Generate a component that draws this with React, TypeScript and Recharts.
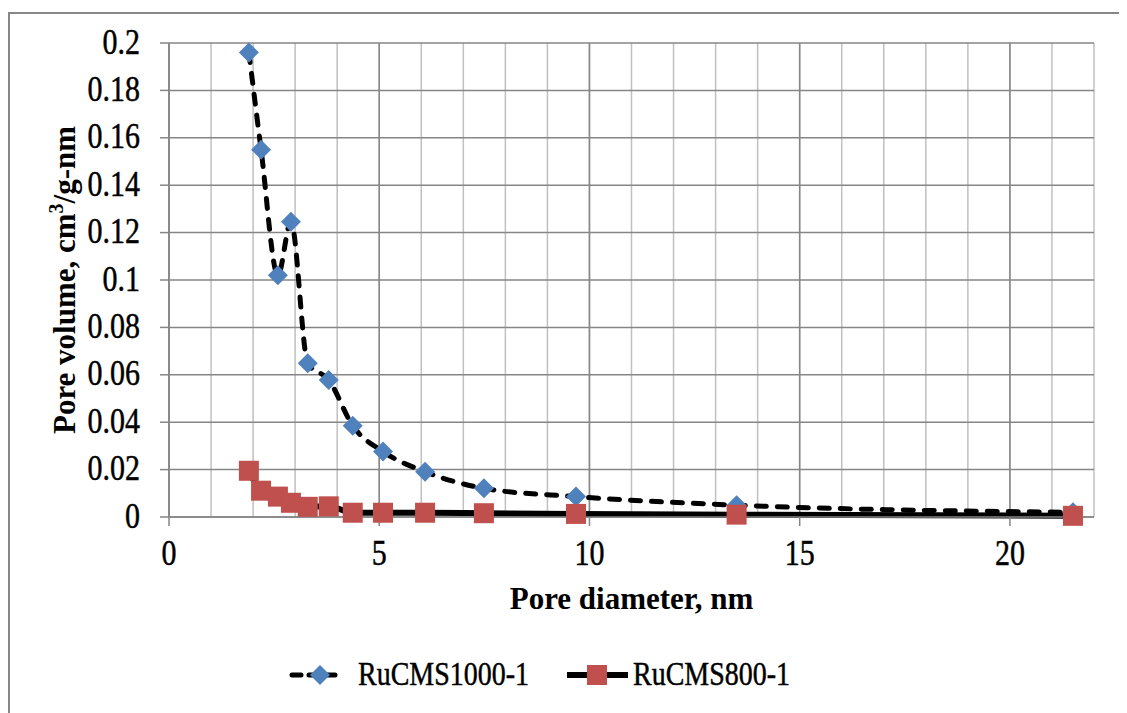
import React from 'react';
import { LineChart, Line, XAxis, YAxis, CartesianGrid, Legend, Label } from 'recharts';

// pore diameter (nm) shared by both samples
const diameters = [1.9, 2.19, 2.59, 2.9, 3.3, 3.8, 4.37, 5.09, 6.09, 7.49, 9.68, 13.5, 21.5];
const ruCms1000 = [0.196, 0.155, 0.102, 0.1246, 0.0649, 0.0578, 0.0385, 0.0276, 0.0191, 0.0121, 0.0086, 0.005, 0.002];
const ruCms800 = [0.0195, 0.0111, 0.0086, 0.006, 0.0043, 0.0045, 0.0018, 0.0018, 0.0018, 0.0016, 0.0013, 0.001, 0.0005];

const xTicks = [0, 5, 10, 15, 20];
const minorX = Array.from({ length: 23 }, (_, i) => i);
const yTicks = [0, 0.02, 0.04, 0.06, 0.08, 0.1, 0.12, 0.14, 0.16, 0.18, 0.2];

const series1000 = diameters.map((x, i) => ({ x, v: ruCms1000[i] }));
const series800 = diameters.map((x, i) => ({ x, v: ruCms800[i] }));

const FONT = "'Liberation Serif', 'Times New Roman', serif";
const BLUE = '#4f81bd';
const RED = '#c0504d';
const GRID = '#868686';
// slight stroke so the thin Times strokes read as heavy as in the source
const txt = { fontFamily: FONT, fill: '#000', stroke: '#000', strokeWidth: 0.4 };

const W = 1119;
const H = 705;

const fmtY = (v: number) => String(Number(v.toFixed(2)));

// Excel text in the source is a little taller than wide, hence the scaleY
const YTick = ({ x, y, payload }: any) => (
  <text transform={`translate(${x},${y}) scale(1,1.18)`} y={9} textAnchor="end" fontSize={30} style={txt}>
    {fmtY(payload.value)}
  </text>
);

const XTick = ({ x, y, payload }: any) => (
  <text transform={`translate(${x},${y + 21}) scale(1,1.18)`} textAnchor="middle" fontSize={30} style={txt}>
    {payload.value}
  </text>
);

const diamond = (p: any) => {
  const { cx, cy, index } = p;
  const r = 10;
  return (
    <polygon
      key={`d-${index}`}
      points={`${cx},${cy - r} ${cx + r},${cy} ${cx},${cy + r} ${cx - r},${cy}`}
      fill={BLUE}
    />
  );
};

const square = (p: any) => {
  const { cx, cy, index } = p;
  return <rect key={`s-${index}`} x={cx - 10} y={cy - 10} width={20} height={20} fill={RED} />;
};

const renderLegend = () => (
  <svg width={W} height={56}>
    <line x1={284} y1={28} x2={334} y2={28} stroke="#000" strokeWidth={5} strokeDasharray="9 8" strokeLinecap="round" />
    <polygon points="312,18 322,28 312,38 302,28" fill={BLUE} />
    <text transform="translate(350,38) scale(1,1.18)" fontSize={28} style={txt}>RuCMS1000-1</text>
    <line x1={559} y1={28} x2={620} y2={28} stroke="#000" strokeWidth={6} />
    <rect x={579} y={18} width={20} height={20} fill={RED} />
    <text transform="translate(625,38) scale(1,1.18)" fontSize={28} style={txt}>RuCMS800-1</text>
  </svg>
);

export default function App() {
  return (
    <div style={{ position: 'relative', width: W, height: H, overflow: 'hidden' }}>
      <div
        style={{
          position: 'absolute',
          left: 0,
          top: 4,
          width: W + 20,
          height: H + 20,
          borderLeft: '2px solid #878787',
          borderTop: '2px solid #878787',
        }}
      />
      <div style={{ position: 'absolute', left: 0, top: 0 }}>
        <LineChart width={W} height={H} margin={{ top: 35, right: 33, left: 0, bottom: 10 }}>
          <CartesianGrid horizontal={false} verticalValues={minorX} stroke="#c0c0c0" strokeWidth={1.5} />
          <CartesianGrid verticalValues={xTicks} horizontalValues={yTicks} stroke={GRID} strokeWidth={1.5} />
          <XAxis
            dataKey="x"
            type="number"
            domain={[0, 22]}
            ticks={xTicks}
            allowDataOverflow
            tickSize={9}
            tickMargin={18}
            tick={(p: any) => <XTick {...p} />}
            stroke={GRID}
            strokeWidth={1.5}
            height={130}
          >
            <Label
              content={({ viewBox }: any) => (
                <text
                  transform={`translate(${viewBox.x + viewBox.width / 2},601) scale(1,1.05)`}
                  textAnchor="middle"
                  fontSize={31}
                  fontWeight="bold"
                  style={{ fontFamily: FONT, fill: '#000' }}
                >
                  Pore diameter, nm
                </text>
              )}
            />
          </XAxis>
          <YAxis
            type="number"
            domain={[0, 0.2]}
            ticks={yTicks}
            tickSize={9}
            tickMargin={20}
            tick={(p: any) => <YTick {...p} />}
            stroke={GRID}
            strokeWidth={1.5}
            width={161}
          >
            <Label
              content={() => (
                <text
                  transform="translate(67,272) rotate(-90) scale(1,1.05)"
                  textAnchor="middle"
                  fontSize={31}
                  fontWeight="bold"
                  style={{ fontFamily: FONT, fill: '#000' }}
                >
                  <tspan>Pore volume, cm</tspan>
                  <tspan fontSize={20} dy={-11}>3</tspan>
                  <tspan dy={11}>/g-nm</tspan>
                </text>
              )}
            />
          </YAxis>
          <Legend verticalAlign="bottom" wrapperStyle={{ left: 0, width: W, height: 56 }} content={renderLegend} />
          <Line
            data={series1000}
            dataKey="v"
            name="RuCMS1000-1"
            type="monotone"
            stroke="#000"
            strokeWidth={5}
            strokeDasharray="10 11"
            strokeLinecap="round"
            dot={diamond}
            activeDot={false}
            isAnimationActive={false}
          />
          <Line
            data={series800}
            dataKey="v"
            name="RuCMS800-1"
            type="monotone"
            stroke="#000"
            strokeWidth={6}
            dot={square}
            activeDot={false}
            isAnimationActive={false}
          />
        </LineChart>
      </div>
    </div>
  );
}
